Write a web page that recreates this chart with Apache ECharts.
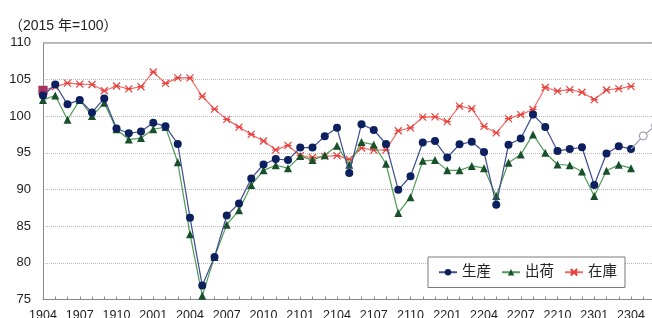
<!DOCTYPE html>
<html>
<head>
<meta charset="utf-8">
<script src="https://cdn.jsdelivr.net/npm/echarts@6/dist/echarts.min.js"></script>
<style>
html,body{margin:0;padding:0;background:#fff;}
#c{width:652px;height:318px;}
</style>
</head>
<body>
<div id="c"></div>
<script>
const categories = [
  '1904','1905','1906','1907','1908','1909','1910','1911','1912',
  '2001','2002','2003','2004','2005','2006','2007','2008','2009','2010','2011','2012',
  '2101','2102','2103','2104','2105','2106','2107','2108','2109','2110','2111','2112',
  '2201','2202','2203','2204','2205','2206','2207','2208','2209','2210','2211','2212',
  '2301','2302','2303','2304','2305','2306'
];
const production = [
  102.8,104.3,101.6,102.2,100.5,102.4,98.3,97.65,97.9,
  99.1,98.6,96.2,86.15,76.9,80.8,86.45,88.1,91.5,93.4,94.15,94.0,
  95.7,95.7,97.25,98.4,92.25,98.9,98.1,96.2,89.95,91.8,96.4,96.6,
  94.35,96.15,96.5,95.1,87.9,96.1,96.95,100.2,98.5,95.25,95.5,95.75,
  90.6,94.9,95.9,95.5
];
const productionForecast = [97.3, 98.7];
const shipments = [
  102.2,102.8,99.5,102.2,100.0,101.8,98.2,96.8,97.0,
  98.2,98.5,93.7,83.9,75.5,80.8,85.2,87.15,90.6,92.6,93.3,92.9,
  94.55,94.0,94.65,95.95,93.35,96.45,96.1,93.5,86.8,88.95,93.9,94.0,
  92.6,92.6,93.2,92.9,89.1,93.65,94.75,97.5,95.0,93.4,93.3,92.45,
  89.1,92.55,93.35,92.9
];
const inventory = [
  103.5,104.0,104.5,104.35,104.3,103.45,104.1,103.7,104.0,
  106.0,104.45,105.2,105.2,102.7,100.95,99.55,98.5,97.5,96.6,95.4,96.0,
  94.6,94.35,94.5,94.6,94.1,95.65,95.35,95.4,98.0,98.4,99.85,99.9,
  99.25,101.35,101.0,98.6,97.7,99.65,100.2,100.9,103.9,103.4,103.6,103.25,
  102.25,103.55,103.75,104.05
];
const yTicks = {min: 75, max: 110, interval: 5};
const seriesNames = ['生産', '出荷', '在庫'];

const FONT = '"Liberation Sans", "Noto Sans CJK JP", sans-serif';
const crossPath = 'path://M0,0L10,10M10,0L0,10M0,5L10,5';

const forecastData = categories.map(() => null);
const lastIdx = production.length - 1;
forecastData[lastIdx] = {value: production[lastIdx], symbol: 'none'};
productionForecast.forEach((v, k) => { forecastData[lastIdx + 1 + k] = v; });

const inventoryData = inventory.map((v, k) => k === 0
  ? {value: v, symbol: 'rect', symbolSize: 8, itemStyle: {color: '#a3325f', borderColor: '#a3325f'}}
  : v);

const chart = echarts.init(document.getElementById('c'), null, {renderer: 'canvas'});
chart.setOption({
  animation: false,
  backgroundColor: '#fff',
  textStyle: {fontFamily: FONT},
  title: {
    text: '（2015 年=100）',
    left: 4, top: 14,
    textStyle: {fontSize: 14, fontWeight: 'normal', color: '#222', fontFamily: FONT}
  },
  legend: {
    data: seriesNames,
    left: 428, top: 257,
    padding: [8, 8, 8, 10],
    itemGap: 10,
    itemWidth: 18, itemHeight: 8,
    backgroundColor: '#fff',
    borderColor: '#7a7a7a', borderWidth: 1,
    textStyle: {fontSize: 14.5, color: '#222', fontFamily: FONT}
  },
  grid: {left: 43, top: 42.7, bottom: 18.5, right: -3.5, containLabel: false, outerBoundsMode: 'none'},
  xAxis: {
    type: 'category',
    data: categories,
    boundaryGap: false,
    axisLine: {lineStyle: {color: '#888', width: 1}},
    axisTick: {show: true, inside: true, length: 3, interval: 0, lineStyle: {color: '#888'}},
    axisLabel: {interval: 2, margin: 10, fontSize: 12.5, color: '#222', fontFamily: FONT},
    splitLine: {show: false}
  },
  yAxis: {
    type: 'value',
    min: yTicks.min, max: yTicks.max, interval: yTicks.interval,
    axisLine: {show: true, lineStyle: {color: '#888', width: 1}},
    axisTick: {show: false},
    axisLabel: {margin: 12, fontSize: 13, color: '#222', fontFamily: FONT},
    splitLine: {show: true, lineStyle: {color: '#b8b8b8', type: 'dotted', width: 1}}
  },
  series: [
    {
      name: '生産', type: 'line', data: production,
      symbol: 'circle', symbolSize: 8, showAllSymbol: true,
      lineStyle: {color: '#3d4b8f', width: 1.2},
      itemStyle: {color: '#0c1f5e'},
      z: 4,
      markLine: {
        silent: true, symbol: 'none', label: {show: false},
        lineStyle: {color: '#a8a8a8', type: 'solid', width: 1.5},
        data: [{yAxis: yTicks.max}]
      }
    },
    {
      name: '出荷', type: 'line', data: shipments,
      symbol: 'triangle', symbolSize: 8, showAllSymbol: true,
      lineStyle: {color: '#4f9a55', width: 1.2},
      itemStyle: {color: '#17502a'},
      z: 3
    },
    {
      name: '在庫', type: 'line', data: inventoryData,
      symbol: crossPath, symbolSize: 7, showAllSymbol: true,
      lineStyle: {color: '#f26a6a', width: 1.2},
      itemStyle: {color: 'rgba(0,0,0,0)', borderColor: '#e8403a', borderWidth: 1.2},
      z: 2
    },
    {
      name: '見通し', type: 'line', data: forecastData,
      symbol: 'circle', symbolSize: 8, showAllSymbol: true,
      connectNulls: false,
      lineStyle: {color: '#9aa0b8', width: 1.2},
      itemStyle: {color: '#fff', borderColor: '#8a8f9e', borderWidth: 1},
      z: 5
    }
  ]
});
</script>
</body>
</html>
